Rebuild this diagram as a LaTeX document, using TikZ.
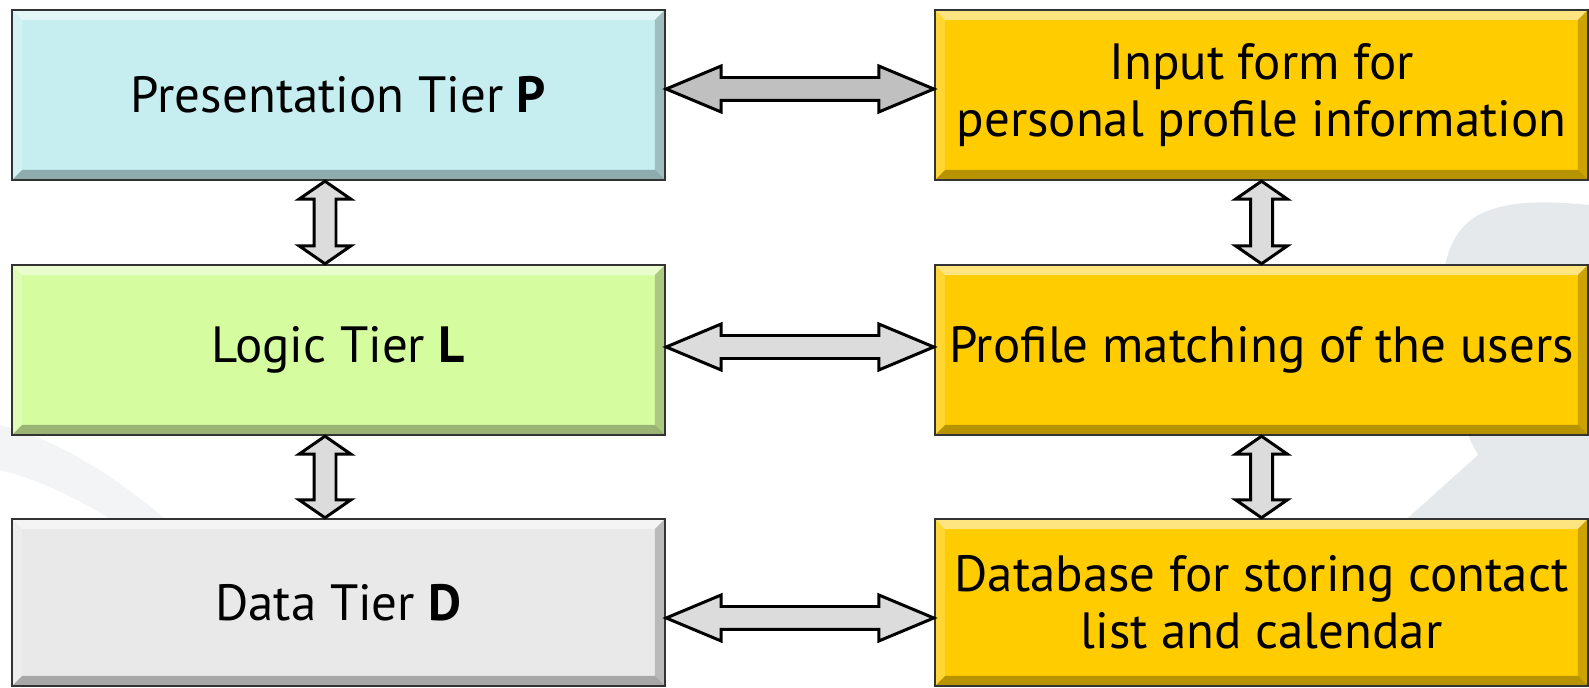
\documentclass[tikz,border=0pt]{standalone}
\usepackage{fontspec}
\setmainfont{PT Sans}
\usepackage{tikz}
\usetikzlibrary{calc}
\definecolor{presfill}{HTML}{C6EEF0}
\definecolor{logicfill}{HTML}{D6FCA0}
\definecolor{datafill}{HTML}{E9E9E9}
\definecolor{gold}{HTML}{FFCC00}
\definecolor{arrowdark}{HTML}{C0C0C0}
\definecolor{arrowlight}{HTML}{DCDCDC}
\definecolor{ghost}{HTML}{E5E9EC}
\definecolor{ghostlight}{HTML}{F2F4F6}
\tikzset{
  tier/.style={draw=black!80,line width=1.4pt,minimum width=13.06cm,minimum height=3.4cm,
    inner sep=0pt,align=center,font=\fontsize{29}{32.5}\selectfont,
    path picture={
      \fill[white,opacity=.5] (path picture bounding box.north west) -- (path picture bounding box.north east)
        -- ([shift={(-.2cm,-.2cm)}]path picture bounding box.north east) -- ([shift={(.2cm,-.2cm)}]path picture bounding box.north west) -- cycle;
      \fill[white,opacity=.2] (path picture bounding box.north west) -- ([shift={(.2cm,-.2cm)}]path picture bounding box.north west)
        -- ([shift={(.2cm,.2cm)}]path picture bounding box.south west) -- (path picture bounding box.south west) -- cycle;
      \fill[black,opacity=.28] (path picture bounding box.south west) -- (path picture bounding box.south east)
        -- ([shift={(-.2cm,.2cm)}]path picture bounding box.south east) -- ([shift={(.2cm,.2cm)}]path picture bounding box.south west) -- cycle;
      \fill[black,opacity=.2] (path picture bounding box.north east) -- ([shift={(-.2cm,-.2cm)}]path picture bounding box.north east)
        -- ([shift={(-.2cm,.2cm)}]path picture bounding box.south east) -- (path picture bounding box.south east) -- cycle;
    }},
  twoway/.style={draw=black,line width=1.7pt,line join=miter}
}
% fat two-headed arrows, horizontal and vertical
\newcommand\harrow[3]{\filldraw[twoway,fill=#1] (#2) -- ([shift={(1.1cm,.46cm)}]#2) -- ([shift={(1.1cm,.23cm)}]#2)
  -- ([shift={(-1.1cm,.23cm)}]#3) -- ([shift={(-1.1cm,.46cm)}]#3) -- (#3) -- ([shift={(-1.1cm,-.46cm)}]#3)
  -- ([shift={(-1.1cm,-.23cm)}]#3) -- ([shift={(1.1cm,-.23cm)}]#2) -- ([shift={(1.1cm,-.46cm)}]#2) -- cycle;}
\newcommand\varrow[3]{\filldraw[twoway,fill=#1] (#2) -- ([shift={(.52cm,-.36cm)}]#2) -- ([shift={(.22cm,-.36cm)}]#2)
  -- ([shift={(.22cm,.36cm)}]#3) -- ([shift={(.52cm,.36cm)}]#3) -- (#3) -- ([shift={(-.52cm,.36cm)}]#3)
  -- ([shift={(-.22cm,.36cm)}]#3) -- ([shift={(-.22cm,-.36cm)}]#2) -- ([shift={(-.52cm,-.36cm)}]#2) -- cycle;}
\begin{document}
\begin{tikzpicture}[x=0.02cm,y=-0.02cm]
\useasboundingbox (0,0) rectangle (1589,688);
% faint background shapes
\fill[ghostlight] (0,425) .. controls (60,440) and (120,480) .. (165,519) -- (110,519) .. controls (80,500) and (40,480) .. (0,470) -- cycle;
\fill[ghost] (1589,205) .. controls (1540,200) and (1490,200) .. (1465,225) .. controls (1440,250) and (1438,300) .. (1445,340)
  -- (1470,440) -- (1478,455) -- (1400,525) -- (1589,525) -- cycle;
% tiers
\node[tier,fill=presfill] (P) at (338.5,95) {Presentation Tier \textbf{P}};
\node[tier,fill=logicfill] (L) at (338.5,350) {Logic Tier \textbf{L}};
\node[tier,fill=datafill,minimum height=3.34cm] (D) at (338.5,602.5) {Data Tier \textbf{D}};
\node[tier,fill=gold] (I) at (1261.5,95) {Input form for\\personal profile information};
\node[tier,fill=gold] (M) at (1261.5,350) {Profile matching of the users};
\node[tier,fill=gold,minimum height=3.34cm] (S) at (1261.5,602.5) {Database for storing contact\\list and calendar};
% arrow ends
\coordinate (pe) at ([yshift=.12cm]P.east);  \coordinate (iw) at ([yshift=.12cm]I.west);
\coordinate (le) at ([yshift=.06cm]L.east);  \coordinate (mw) at ([yshift=.06cm]M.west);
\coordinate (de) at ([yshift=-.31cm]D.east); \coordinate (sw) at ([yshift=-.31cm]S.west);
\coordinate (ps) at ([xshift=-.27cm]P.south); \coordinate (ln) at ([xshift=-.27cm]L.north);
\coordinate (ls) at ([xshift=-.27cm]L.south); \coordinate (dn) at ([xshift=-.27cm]D.north);
\harrow{arrowdark}{pe}{iw}
\harrow{arrowlight}{le}{mw}
\harrow{arrowlight}{de}{sw}
\varrow{arrowlight}{ps}{ln}
\varrow{arrowlight}{ls}{dn}
\varrow{arrowlight}{I.south}{M.north}
\varrow{arrowlight}{M.south}{S.north}
\end{tikzpicture}
\end{document}
